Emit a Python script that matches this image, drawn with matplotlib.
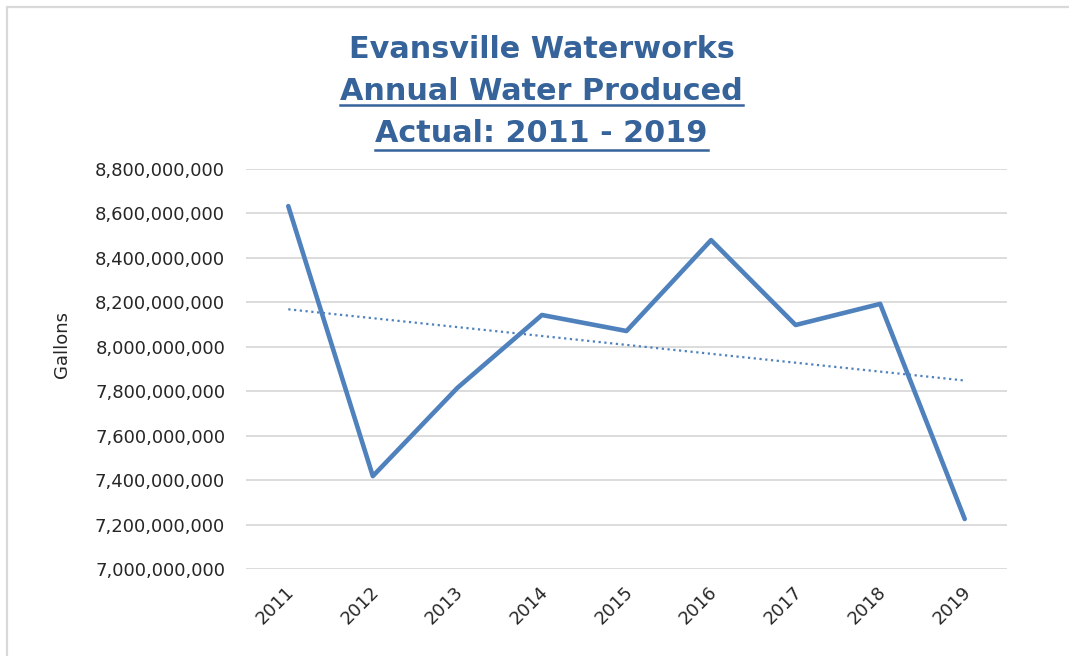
import matplotlib
matplotlib.use("Agg")
import matplotlib.pyplot as plt
from matplotlib.patches import Rectangle
from matplotlib.lines import Line2D
from matplotlib.ticker import FuncFormatter
import numpy as np

years = ["2011", "2012", "2013", "2014", "2015", "2016", "2017", "2018", "2019"]
gallons = [8.633e9, 7.418e9, 7.815e9, 8.143e9, 8.071e9, 8.480e9, 8.098e9, 8.193e9, 7.225e9]
yticks = [7.0e9 + i * 2.0e8 for i in range(10)]
title_lines = ["Evansville Waterworks", "Annual Water Produced", "Actual: 2011 - 2019"]
ylabel = "Gallons"

W, H = 1069, 656
fig = plt.figure(figsize=(W / 100, H / 100), dpi=100)
fig.patch.set_facecolor("white")

# outer frame (top and left edges visible)
fig.add_artist(Rectangle((7 / W, -0.05), 1.2, 1 - 7 / H + 0.05, transform=fig.transFigure,
                         fill=False, edgecolor="#D9D9D9", linewidth=1.6))

ax = fig.add_axes([246 / W, 1 - 569 / H, (1007 - 246) / W, (569 - 169) / H])
x = np.arange(len(years))
ax.plot(x, gallons, color="#4F81BD", linewidth=3.3, solid_capstyle="round", zorder=3)

# linear trendline
coef = np.polyfit(x, gallons, 1)
ax.plot(x, np.polyval(coef, x), color="#4F81BD", linewidth=1.6, linestyle=(0, (1, 1.6)), zorder=2)

ax.set_xlim(-0.5, len(years) - 0.5)
ax.set_ylim(yticks[0], yticks[-1])
ax.set_yticks(yticks)
ax.yaxis.set_major_formatter(FuncFormatter(lambda v, p: f"{v:,.0f}"))
ax.set_xticks(x)
ax.set_xticklabels(years, rotation=45, ha="right", va="top", rotation_mode="anchor")
ax.tick_params(axis="both", length=0, labelsize=13, colors="#262626")
ax.tick_params(axis="y", pad=15)
ax.tick_params(axis="x", pad=10)
for lab in ax.get_xticklabels():
    lab.set_transform(lab.get_transform() + matplotlib.transforms.ScaledTranslation(-3 / 100, 0, fig.dpi_scale_trans))
ax.grid(axis="y", color="#D9D9D9", linewidth=1.3)
ax.set_axisbelow(True)
for s in ax.spines.values():
    s.set_visible(False)

fig.text(62 / W, 1 - 345 / H, ylabel, rotation=90, ha="center", va="center", fontsize=13, color="#262626")

title_color = "#35639A"
baselines_y = [58, 100.5, 142.5]
texts = []
for line, by in zip(title_lines, baselines_y):
    t = fig.text(0.5 * (341 + 742) / W, 1 - by / H, line, ha="center", va="baseline",
                 fontsize=21.8, fontweight="bold", color=title_color, family="DejaVu Sans")
    texts.append(t)

fig.canvas.draw()
r = fig.canvas.get_renderer()
for t, uy in zip(texts[1:], [105, 150]):
    bb = t.get_window_extent(renderer=r)
    fig.add_artist(Line2D([bb.x0 / W, bb.x1 / W], [1 - uy / H, 1 - uy / H], transform=fig.transFigure,
                          color=title_color, linewidth=1.8))

fig.savefig("out.png", dpi=100, facecolor="white")
